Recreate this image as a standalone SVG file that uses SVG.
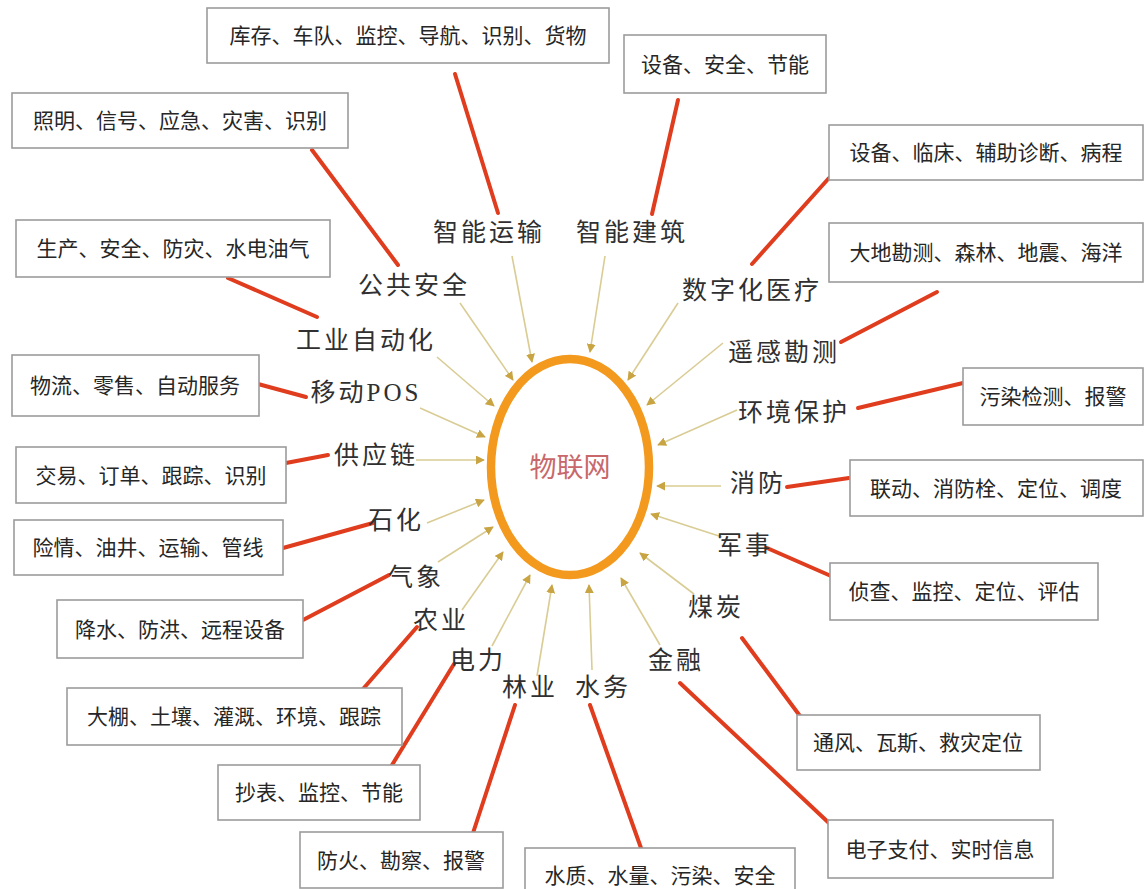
<svg xmlns="http://www.w3.org/2000/svg" width="1147" height="889" viewBox="0 0 1147 889">
<defs>
<style>
.box rect{fill:#fff;stroke:#9c9c9c;stroke-width:1.6}
.box text{font-family:"Noto Sans CJK SC","Noto Sans",sans-serif;font-size:21px;fill:#262626;text-anchor:middle}
.lab text{font-family:"Liberation Serif","Noto Sans CJK SC",serif;font-size:25px;fill:#303030;text-anchor:middle;letter-spacing:3px}
.red{stroke:#E03C1E;stroke-width:4;stroke-linecap:round}
.thin{stroke:#D9CC94;stroke-width:1.6;marker-end:url(#ah)}
</style>
<marker id="ah" viewBox="0 0 10 10" refX="9" refY="5" markerWidth="9" markerHeight="9" markerUnits="userSpaceOnUse" orient="auto">
<path d="M0,0 L10,5 L0,10 Z" fill="#C9A443"/>
</marker>
</defs>
<rect width="1147" height="889" fill="#fff"/>

<g id="connectors">
<g id="thin-arrows">
<line class="thin" x1="512" y1="256" x2="532" y2="362"/>
<line class="thin" x1="605" y1="256" x2="590" y2="352"/>
<line class="thin" x1="460" y1="303" x2="513" y2="380"/>
<line class="thin" x1="678" y1="303" x2="628" y2="380"/>
<line class="thin" x1="437" y1="357" x2="494" y2="406"/>
<line class="thin" x1="723" y1="343" x2="647" y2="405"/>
<line class="thin" x1="420" y1="408" x2="485" y2="437"/>
<line class="thin" x1="737" y1="410" x2="658" y2="445"/>
<line class="thin" x1="416" y1="460" x2="484" y2="460"/>
<line class="thin" x1="721" y1="486" x2="657" y2="486"/>
<line class="thin" x1="427" y1="523" x2="484" y2="500"/>
<line class="thin" x1="722" y1="537" x2="651" y2="514"/>
<line class="thin" x1="438" y1="562" x2="493" y2="527"/>
<line class="thin" x1="694" y1="594" x2="640" y2="553"/>
<line class="thin" x1="462" y1="610" x2="503" y2="552"/>
<line class="thin" x1="660" y1="645" x2="621" y2="578"/>
<line class="thin" x1="492" y1="646" x2="530" y2="575"/>
<line class="thin" x1="537" y1="676" x2="552" y2="585"/>
<line class="thin" x1="592" y1="670" x2="589" y2="585"/>
</g>
<g id="red-links">
<line class="red" x1="455" y1="74" x2="498" y2="213"/>
<line class="red" x1="678" y1="100" x2="652" y2="214"/>
<line class="red" x1="312" y1="150" x2="398" y2="265"/>
<line class="red" x1="228" y1="278" x2="317" y2="317"/>
<line class="red" x1="829" y1="178" x2="752" y2="264"/>
<line class="red" x1="937" y1="292" x2="841" y2="342"/>
<line class="red" x1="963" y1="383" x2="858" y2="408"/>
<line class="red" x1="258" y1="384" x2="306" y2="397"/>
<line class="red" x1="286" y1="463" x2="328" y2="455"/>
<line class="red" x1="283" y1="548" x2="373" y2="523"/>
<line class="red" x1="303" y1="620" x2="389" y2="575"/>
<line class="red" x1="363" y1="689" x2="417" y2="627"/>
<line class="red" x1="392" y1="765" x2="454" y2="664"/>
<line class="red" x1="473" y1="833" x2="515" y2="705"/>
<line class="red" x1="641" y1="848" x2="590" y2="705"/>
<line class="red" x1="830" y1="824" x2="680" y2="683"/>
<line class="red" x1="800" y1="716" x2="742" y2="638"/>
<line class="red" x1="831" y1="576" x2="767" y2="548"/>
<line class="red" x1="849" y1="478" x2="787" y2="487"/>
</g>
</g>

<g id="center">
<ellipse cx="570" cy="467" rx="79" ry="108" fill="#fff" stroke="#F39A1E" stroke-width="8.5"/>
<text x="570" y="477" text-anchor="middle" font-family="Liberation Serif,'Noto Sans CJK SC',serif" font-size="27" fill="#C8686A">物联网</text>
</g>

<g class="lab">
<g id="l-yunshu"><text x="489" y="241">智能运输</text></g>
<g id="l-jianzhu"><text x="632" y="241">智能建筑</text></g>
<g id="l-gonggong"><text x="414" y="294">公共安全</text></g>
<g id="l-yiliao"><text x="752" y="299">数字化医疗</text></g>
<g id="l-gongye"><text x="366" y="349">工业自动化</text></g>
<g id="l-yaogan"><text x="784" y="361">遥感勘测</text></g>
<g id="l-pos"><text x="366" y="401">移动POS</text></g>
<g id="l-huanjing"><text x="794" y="421">环境保护</text></g>
<g id="l-gongying"><text x="376" y="464">供应链</text></g>
<g id="l-xiaofang"><text x="758" y="492">消防</text></g>
<g id="l-shihua"><text x="396" y="529">石化</text></g>
<g id="l-junshi"><text x="745" y="554">军事</text></g>
<g id="l-qixiang"><text x="416" y="586">气象</text></g>
<g id="l-meitan"><text x="716" y="616">煤炭</text></g>
<g id="l-nongye"><text x="441" y="629">农业</text></g>
<g id="l-dianli"><text x="478" y="669">电力</text></g>
<g id="l-jinrong"><text x="676" y="669">金融</text></g>
<g id="l-linye"><text x="530" y="696">林业</text></g>
<g id="l-shuiwu"><text x="603" y="696">水务</text></g>
</g>

<g class="box">
<g id="b1"><rect x="207" y="8" width="402" height="55"/><text x="408" y="43">库存、车队、监控、导航、识别、货物</text></g>
<g id="b2"><rect x="624" y="35" width="202" height="58"/><text x="725" y="72">设备、安全、节能</text></g>
<g id="b3"><rect x="12" y="93" width="336" height="55"/><text x="180" y="128">照明、信号、应急、灾害、识别</text></g>
<g id="b4"><rect x="16" y="220" width="314" height="57"/><text x="173" y="256">生产、安全、防灾、水电油气</text></g>
<g id="b5"><rect x="829" y="125" width="314" height="55"/><text x="986" y="160">设备、临床、辅助诊断、病程</text></g>
<g id="b6"><rect x="829" y="223" width="314" height="59"/><text x="986" y="260">大地勘测、森林、地震、海洋</text></g>
<g id="b7"><rect x="963" y="368" width="180" height="57"/><text x="1053" y="404">污染检测、报警</text></g>
<g id="b8"><rect x="12" y="355" width="247" height="61"/><text x="135" y="393">物流、零售、自动服务</text></g>
<g id="b9"><rect x="16" y="447" width="270" height="56"/><text x="151" y="483">交易、订单、跟踪、识别</text></g>
<g id="b10"><rect x="14" y="520" width="269" height="55"/><text x="148" y="555">险情、油井、运输、管线</text></g>
<g id="b11"><rect x="57" y="600" width="246" height="58"/><text x="180" y="637">降水、防洪、远程设备</text></g>
<g id="b12"><rect x="67" y="688" width="335" height="57"/><text x="234" y="724">大棚、土壤、灌溉、环境、跟踪</text></g>
<g id="b13"><rect x="218" y="765" width="202" height="55"/><text x="319" y="800">抄表、监控、节能</text></g>
<g id="b14"><rect x="300" y="832" width="203" height="56"/><text x="401" y="868">防火、勘察、报警</text></g>
<g id="b15"><rect x="525" y="848" width="270" height="50"/><text x="660" y="883">水质、水量、污染、安全</text></g>
<g id="b16"><rect x="828" y="820" width="225" height="58"/><text x="940" y="857">电子支付、实时信息</text></g>
<g id="b17"><rect x="797" y="715" width="243" height="55"/><text x="918" y="750">通风、瓦斯、救灾定位</text></g>
<g id="b18"><rect x="830" y="563" width="268" height="57"/><text x="964" y="599">侦查、监控、定位、评估</text></g>
<g id="b19"><rect x="850" y="460" width="293" height="56"/><text x="996" y="496">联动、消防栓、定位、调度</text></g>
</g>
</svg>
